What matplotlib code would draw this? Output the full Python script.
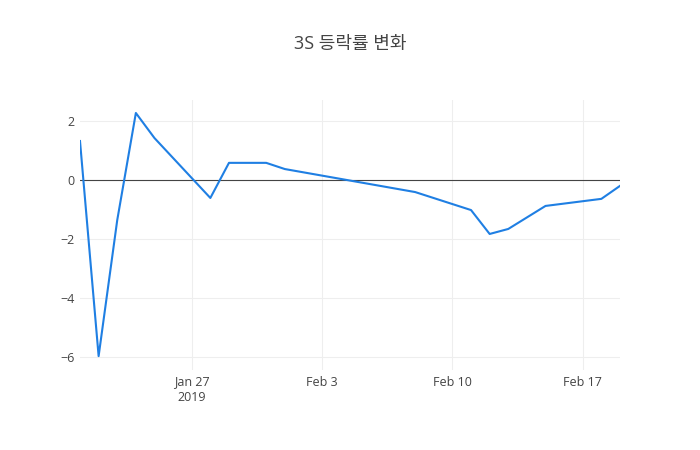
import matplotlib
matplotlib.use("Agg")
import matplotlib.pyplot as plt
import numpy as np

plt.rcParams['font.family'] = ['Open Sans', 'Noto Sans CJK KR', 'DejaVu Sans']

# 3S daily change rate (%)
dates = ['2019-01-21', '2019-01-22', '2019-01-23', '2019-01-24', '2019-01-25',
         '2019-01-28', '2019-01-29', '2019-01-31', '2019-02-01', '2019-02-08',
         '2019-02-11', '2019-02-12', '2019-02-13', '2019-02-15', '2019-02-18',
         '2019-02-19']
rates = [1.32, -5.97, -1.36, 2.27, 1.42,
         -0.61, 0.58, 0.58, 0.37, -0.41,
         -1.02, -1.83, -1.66, -0.88, -0.64,
         -0.20]
tick_dates = ['2019-01-27', '2019-02-03', '2019-02-10', '2019-02-17']
tick_labels = ['Jan 27\n2019', 'Feb 3', 'Feb 10', 'Feb 17']
y_ticks = [-6, -4, -2, 0, 2]

x = np.array(dates, dtype='datetime64[D]').astype('O')
xt = np.array(tick_dates, dtype='datetime64[D]').astype('O')

fig = plt.figure(figsize=(7, 4.5), dpi=100)
ax = fig.add_axes([80 / 700, 80 / 450, 540 / 700, 270 / 450])

ax.plot(x, rates, color='#1f7fe3', lw=1.5, zorder=3)
ax.axhline(0, color='#444444', lw=0.8, zorder=2)

ax.set_xlim(x[0], x[-1])
ax.set_ylim(-6.44, 2.71)
ax.set_xticks(xt)
ax.set_xticklabels(tick_labels)
ax.set_yticks(y_ticks)
ax.set_yticklabels(['\u22126', '\u22124', '\u22122', '0', '2'])

ax.grid(True, color='#eeeeee', lw=0.75, zorder=0)
for s in ax.spines.values():
    s.set_visible(False)
ax.tick_params(length=0, labelsize=9, colors='#444444', pad=4)
ax.tick_params(axis='y', pad=4)

fig.text(350 / 700, 1 - 44 / 450, '3S 등락률 변화', ha='center', va='center',
         fontsize=13, color='#444444')

fig.savefig('out.png', dpi=100)
